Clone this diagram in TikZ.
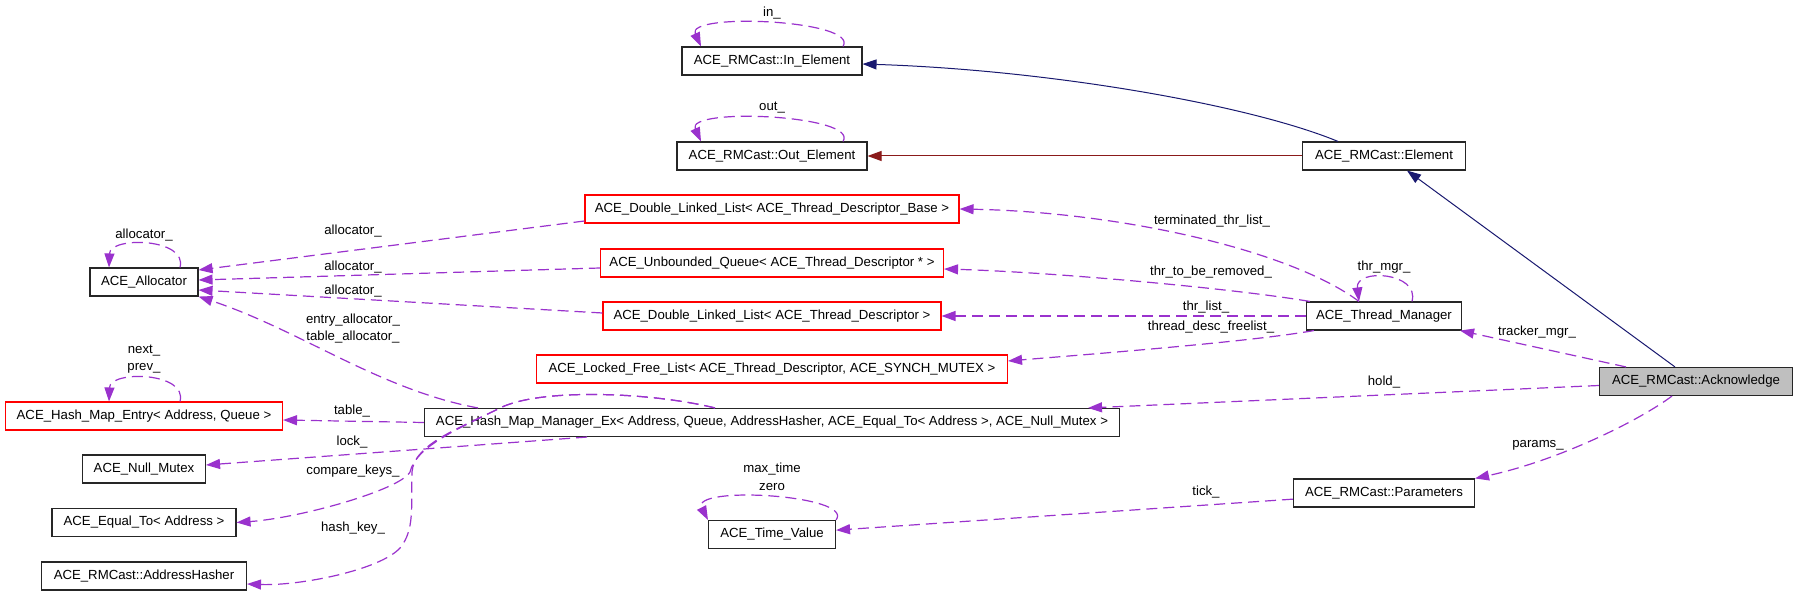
\documentclass[tikz,border=0pt]{standalone}
\usepackage{fontspec}
\setmainfont{Liberation Sans}
\usetikzlibrary{arrows.meta}
\definecolor{usecol}{HTML}{9A32CD}
\definecolor{inhcol}{HTML}{191970}
\definecolor{privcol}{HTML}{8B1A1A}
\definecolor{ackfill}{HTML}{BFBFBF}
\definecolor{boxcol}{HTML}{262626}
\begin{document}
\begin{tikzpicture}[x=1pt,y=-1pt,
  font=\fontsize{13.2}{15.8}\selectfont,
  cls/.style={draw=boxcol, line width=1.1pt, minimum height=28pt, inner sep=0pt, anchor=center},
  redcls/.style={cls, draw=red},
  lbl/.style={inner sep=0pt, anchor=center},
  usage/.style={draw=usecol, line width=1.2pt, dash pattern=on 11pt off 6pt, -{Triangle[length=14pt,width=10pt]}},
  inh/.style={draw=inhcol, line width=1pt, -{Triangle[length=14pt,width=10pt]}},
  priv/.style={draw=privcol, line width=1pt, -{Triangle[length=14pt,width=10pt]}}]
\path[use as bounding box, fill=white] (0,0) rectangle (1797,596);

% nodes
\node[cls, minimum width=180pt] (inel) at (772,61) {ACE\_RMCast::In\_Element};
\node[cls, minimum width=190pt] (outel) at (772,156) {ACE\_RMCast::Out\_Element};
\node[cls, minimum width=163pt] (elem) at (1384,156) {ACE\_RMCast::Element};
\node[redcls, minimum width=374pt] (dllb) at (772,209) {ACE\_Double\_Linked\_List< ACE\_Thread\_Descriptor\_Base >};
\node[redcls, minimum width=343pt] (uq) at (772,263) {ACE\_Unbounded\_Queue< ACE\_Thread\_Descriptor * >};
\node[redcls, minimum width=338pt] (dlld) at (772,316) {ACE\_Double\_Linked\_List< ACE\_Thread\_Descriptor >};
\node[redcls, minimum width=471pt] (lfl) at (772,369) {ACE\_Locked\_Free\_List< ACE\_Thread\_Descriptor, ACE\_SYNCH\_MUTEX >};
\node[cls, minimum width=695pt] (hmm) at (772,422.5) {ACE\_Hash\_Map\_Manager\_Ex< Address, Queue, AddressHasher, ACE\_Equal\_To< Address >, ACE\_Null\_Mutex >};
\node[cls, minimum width=127pt] (tv) at (772,534.5) {ACE\_Time\_Value};
\node[cls, minimum width=108pt] (alloc) at (144,282) {ACE\_Allocator};
\node[redcls, minimum width=277pt] (hme) at (144,416) {ACE\_Hash\_Map\_Entry< Address, Queue >};
\node[cls, minimum width=123pt] (nm) at (144,469) {ACE\_Null\_Mutex};
\node[cls, minimum width=184pt] (eq) at (144,522.5) {ACE\_Equal\_To< Address >};
\node[cls, minimum width=205pt] (ah) at (144,576) {ACE\_RMCast::AddressHasher};
\node[cls, minimum width=155pt] (tm) at (1384,316) {ACE\_Thread\_Manager};
\node[cls, minimum width=193pt, fill=ackfill] (ack) at (1696,381.5) {ACE\_RMCast::Acknowledge};
\node[cls, minimum width=181pt] (par) at (1384,493) {ACE\_RMCast::Parameters};

% inheritance
\draw[inh] ([xshift=-46pt]elem.north) .. controls (1250,105) and (1050,70) .. ([yshift=-3pt]inel.east);
\draw[priv] (elem.west) -- (outel.east);
\draw[inh] ([xshift=-21pt]ack.north) -- ([xshift=23pt]elem.south);

% self loops
\draw[usage] ([xshift=71pt]inel.north) .. controls (860,20) and (685,12) .. ([xshift=-71pt]inel.north);
\draw[usage] ([xshift=71pt]outel.north) .. controls (860,115) and (685,107) .. ([xshift=-71pt]outel.north);
\draw[usage] ([xshift=36pt]alloc.north) .. controls (188,238) and (110,236) .. ([xshift=-35pt]alloc.north);
\draw[usage] ([xshift=36pt]hme.north) .. controls (188,372) and (110,370) .. ([xshift=-35pt]hme.north);
\draw[usage] ([xshift=28pt]tm.north) .. controls (1420,272) and (1355,268) .. ([xshift=-25pt]tm.north);
\draw[usage] (tv.north east) .. controls (855,495) and (690,485) .. (tv.north west);

% allocator users
\draw[usage] ([yshift=-12pt]dllb.west) -- ([yshift=12pt]alloc.east);
\draw[usage] ([yshift=-5pt]uq.west) -- ([yshift=2pt]alloc.east);
\draw[usage] ([yshift=3pt]dlld.west) -- ([yshift=-8pt]alloc.east);
\draw[usage] ([xshift=-294pt]hmm.north) .. controls (380,390) and (300,330) .. (alloc.south east);

% hash map manager
\draw[usage] (hmm.west) -- ([yshift=-4pt]hme.east);
\draw[usage] ([xshift=-185pt]hmm.south) -- ([yshift=4pt]nm.east);
\draw[usage] ([xshift=-57pt]hmm.north) .. controls (650,392) and (540,388) .. (500,408) .. controls (460,428) and (416,446) .. (410,472) .. controls (400,490) and (300,518) .. (eq.east);
\draw[usage] ([xshift=-57pt]hmm.north) .. controls (650,392) and (540,388) .. (500,408) .. controls (460,428) and (414,444) .. (412,472) .. controls (411,505) and (415,530) .. (400,548) .. controls (380,570) and (300,586) .. ([yshift=-8pt]ah.east);

% thread manager
\draw[usage] ([xshift=-25pt]tm.north) .. controls (1290,250) and (1120,212) .. (dllb.east);
\draw[usage] ([xshift=4pt]tm.north west) .. controls (1230,288) and (1050,272) .. ([yshift=-6pt]uq.east);
\draw[usage] (tm.west) -- (dlld.east);
\draw[usage] ([xshift=8pt]tm.south west) .. controls (1250,342) and (1080,355) .. ([yshift=8pt]lfl.east);

% acknowledge
\draw[usage] ([xshift=-70pt]ack.north) -- ([xshift=-2pt]tm.south east);
\draw[usage] ([yshift=-4pt]ack.west) -- ([xshift=-32pt]hmm.north east);
\draw[usage] ([xshift=-24pt]ack.south) .. controls (1640,420) and (1560,460) .. (par.north east);
\draw[usage] (par) -- (tv);

% labels
\node[lbl] (l1) at (772,13) {in\_};
\node[lbl] (l2) at (772,108) {out\_};
\node[lbl] (l3) at (144,235) {allocator\_};
\node[lbl] (l4) at (353,231) {allocator\_};
\node[lbl] (l5) at (353,267) {allocator\_};
\node[lbl] (l6) at (353,291) {allocator\_};
\node[lbl] (l7) at (353,320) {entry\_allocator\_};
\node[lbl] (l8) at (353,337) {table\_allocator\_};
\node[lbl] (l9) at (144,351) {next\_};
\node[lbl] (l10) at (144,368) {prev\_};
\node[lbl] (l11) at (352,411) {table\_};
\node[lbl] (l12) at (352,442) {lock\_};
\node[lbl] (l13) at (353,471) {compare\_keys\_};
\node[lbl] (l14) at (353,528) {hash\_key\_};
\node[lbl] (l15) at (1212,221) {terminated\_thr\_list\_};
\node[lbl] (l16) at (1211,272) {thr\_to\_be\_removed\_};
\node[lbl] (l17) at (1206,307) {thr\_list\_};
\node[lbl] (l18) at (1211,327) {thread\_desc\_freelist\_};
\node[lbl] (l19) at (1384,267) {thr\_mgr\_};
\node[lbl] (l20) at (1537,332) {tracker\_mgr\_};
\node[lbl] (l21) at (1384,382) {hold\_};
\node[lbl] (l22) at (1538,445) {params\_};
\node[lbl] (l23) at (1206,492) {tick\_};
\node[lbl] (l24) at (772,469) {max\_time};
\node[lbl] (l25) at (772,487) {zero};
\end{tikzpicture}
\end{document}
